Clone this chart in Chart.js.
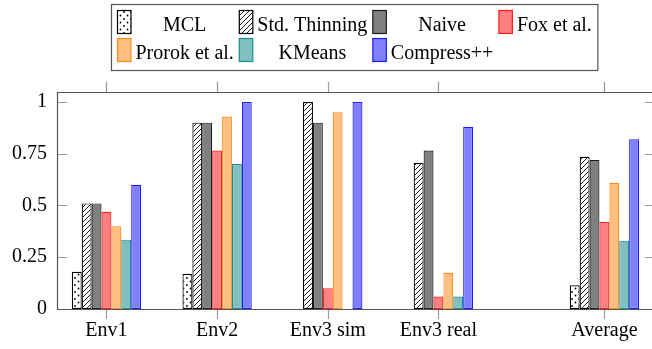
<!DOCTYPE html>
<html>
<head>
<meta charset="utf-8">
<script src="https://cdn.jsdelivr.net/npm/chart.js@4/dist/chart.umd.min.js"></script>
<style>
  html, body { margin: 0; padding: 0; background: #fff; }
  #wrap { width: 652px; height: 349px; }
</style>
</head>
<body>
<div id="wrap"><canvas id="chart" width="652" height="349"></canvas></div>
<script>
// Environments on the x axis
const categories = ['Env1', 'Env2', 'Env3 sim', 'Env3 real', 'Average'];

// Score per method, one value per environment
const mcl         = [0.18, 0.17, 0.00, 0.00, 0.115];
const stdThinning = [0.51, 0.90, 1.00, 0.705, 0.735];
const naive       = [0.51, 0.90, 0.90, 0.765, 0.72];
const fox         = [0.47, 0.765, 0.10, 0.06, 0.42];
const prorok      = [0.40, 0.93, 0.95, 0.175, 0.61];
const kmeans      = [0.335, 0.70, 0.00, 0.06, 0.33];
const compress    = [0.60, 1.00, 1.00, 0.88, 0.82];

// Y axis tick values
const yTicks = [0, 0.25, 0.5, 0.75, 1];

// Slot of each group: one unit apart, the summary group set off by an extra half unit
const xPos = categories.map((c, i) => (c === 'Average' ? i + 1.5 : i + 1));

const FONT = '"Liberation Serif", "Times New Roman", serif';

function dotsPattern() {
  const c = document.createElement('canvas');
  c.width = 7; c.height = 7;
  const g = c.getContext('2d');
  g.fillStyle = '#fff'; g.fillRect(0, 0, 7, 7);
  g.fillStyle = '#000';
  [[1.5, 1.5], [5, 5]].forEach(([x, y]) => { g.beginPath(); g.arc(x, y, 0.9, 0, Math.PI * 2); g.fill(); });
  return document.createElement('canvas').getContext('2d').createPattern(c, 'repeat');
}

function hatchPattern() {
  const s = 5;
  const c = document.createElement('canvas');
  c.width = s; c.height = s;
  const g = c.getContext('2d');
  g.fillStyle = '#fff'; g.fillRect(0, 0, s, s);
  g.strokeStyle = '#000'; g.lineWidth = 0.9;
  g.beginPath();
  g.moveTo(-1, s + 1); g.lineTo(s + 1, -1);
  g.moveTo(-1, 1); g.lineTo(1, -1);
  g.moveTo(s - 1, s + 1); g.lineTo(s + 1, s - 1);
  g.stroke();
  return document.createElement('canvas').getContext('2d').createPattern(c, 'repeat');
}

const toPoints = vals => vals.map((v, i) => ({ x: xPos[i], y: v }));

const series = [
  { label: 'MCL',           data: mcl,         bg: dotsPattern(),  border: '#000000' },
  { label: 'Std. Thinning', data: stdThinning, bg: hatchPattern(), border: '#000000' },
  { label: 'Naive',         data: naive,       bg: '#808080',      border: '#1a1a1a' },
  { label: 'Fox et al.',    data: fox,         bg: '#ff8080',      border: '#ff1a1a' },
  { label: 'Prorok et al.', data: prorok,      bg: '#ffbf80',      border: '#ff8c1a' },
  { label: 'KMeans',        data: kmeans,      bg: '#80bfbf',      border: '#1a8c8c' },
  { label: 'Compress++',    data: compress,    bg: '#8080ff',      border: '#1a1aff' }
];

// Frame and tick marks in the pgfplots style
const axisFrame = {
  id: 'axisFrame',
  afterDatasetsDraw(chart) {
    const { ctx, chartArea: a, scales } = chart;
    ctx.save();
    ctx.lineWidth = 1.2;
    // tick marks
    ctx.strokeStyle = '#9a9a9a';
    ctx.beginPath();
    yTicks.forEach(v => {
      const y = Math.round(scales.y.getPixelForValue(v)) + 0.5;
      ctx.moveTo(a.left, y); ctx.lineTo(a.left + 10, y);
      ctx.moveTo(a.right - 7, y); ctx.lineTo(a.right, y);
    });
    xPos.forEach(v => {
      const x = Math.round(scales.x.getPixelForValue(v)) + 0.5;
      ctx.moveTo(x, a.top); ctx.lineTo(x, a.top - 10);
      ctx.moveTo(x, a.bottom); ctx.lineTo(x, a.bottom + 10);
    });
    ctx.stroke();
    // frame
    ctx.strokeStyle = '#555555';
    ctx.beginPath();
    ctx.moveTo(a.right, a.top + 0.5); ctx.lineTo(a.left + 0.5, a.top + 0.5);
    ctx.lineTo(a.left + 0.5, a.bottom + 0.5); ctx.lineTo(a.right, a.bottom + 0.5);
    ctx.stroke();
    ctx.restore();
  }
};

// Boxed legend: four columns, text centred in each column
const boxLegend = {
  id: 'boxLegend',
  afterDraw(chart) {
    const { ctx } = chart;
    const ds = chart.data.datasets;
    const cols = 4;
    const iconW = 13.5, iconH = 23, gapIT = 4.5, gapAfter = 5.5, padX = 6;
    ctx.save();
    ctx.font = '20px ' + FONT;
    const colW = [];
    ds.forEach((d, i) => {
      const c = i % cols;
      colW[c] = Math.max(colW[c] || 0, ctx.measureText(d.label).width);
    });
    let total = padX * 2;
    colW.forEach((w, c) => { total += iconW + gapIT + w + (c < cols - 1 ? gapAfter : 0); });
    const left = Math.round(354 - total / 2) + 0.5;
    const top = 4.5, bottom = 70.5;
    const colX = [];
    let x = left + padX;
    colW.forEach(w => { colX.push(x); x += iconW + gapIT + w + gapAfter; });

    ds.forEach((d, i) => {
      const c = i % cols, r = Math.floor(i / cols);
      const ix = colX[c], iy = 10.5 + r * 28;
      ctx.fillStyle = d.backgroundColor;
      ctx.fillRect(ix, iy, iconW, iconH);
      ctx.strokeStyle = d.borderColor;
      ctx.lineWidth = 1.2;
      ctx.strokeRect(ix, iy, iconW, iconH);
      ctx.fillStyle = '#000';
      ctx.textAlign = 'center';
      ctx.textBaseline = 'alphabetic';
      ctx.fillText(d.label, ix + iconW + gapIT + colW[c] / 2, 30.5 + r * 28);
    });

    ctx.strokeStyle = '#555555';
    ctx.lineWidth = 1.2;
    ctx.strokeRect(left, top, total, bottom - top);
    ctx.restore();
  }
};

Chart.defaults.font.family = FONT;
Chart.defaults.font.size = 20;
Chart.defaults.color = '#000';

new Chart(document.getElementById('chart'), {
  type: 'bar',
  data: {
    datasets: series.map(s => ({
      label: s.label,
      data: toPoints(s.data),
      backgroundColor: s.bg,
      borderColor: s.border,
      borderWidth: 1.2,
      borderSkipped: false,
      categoryPercentage: 0.626,
      barPercentage: 1
    }))
  },
  options: {
    responsive: false,
    animation: false,
    devicePixelRatio: 1,
    layout: { padding: { top: 92, right: 0, left: 0, bottom: 0 } },
    plugins: { legend: { display: false }, tooltip: { enabled: false } },
    scales: {
      x: {
        type: 'linear',
        min: 0.553,
        max: 5.93,
        offset: false,
        grid: { display: false, drawTicks: false },
        border: { display: false },
        afterBuildTicks: s => { s.ticks = xPos.map(v => ({ value: v })); },
        afterFit: s => { s.height = 40; },
        ticks: {
          autoSkip: false,
          maxRotation: 0,
          padding: 10,
          callback: v => categories[xPos.indexOf(v)]
        }
      },
      y: {
        min: 0,
        max: 1.048,
        grid: { display: false, drawTicks: false },
        border: { display: false },
        afterBuildTicks: s => { s.ticks = yTicks.map(v => ({ value: v })); },
        afterFit: s => { s.width = 57; },
        ticks: { padding: 10, callback: v => String(v) }
      }
    }
  },
  plugins: [axisFrame, boxLegend]
});
</script>
</body>
</html>
